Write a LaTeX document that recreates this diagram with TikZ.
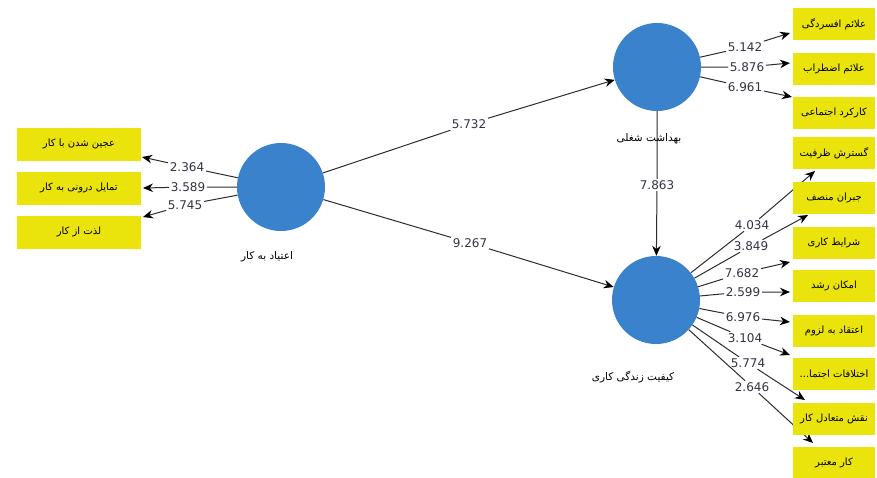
\documentclass[tikz,border=0pt]{standalone}
\usepackage{fontspec}
\setmainfont{DejaVu Sans}
\newfontfamily\fa[Script=Arabic]{DejaVu Sans}
\TeXXeTstate=1
\usetikzlibrary{arrows.meta,backgrounds}
\definecolor{myblue}{RGB}{58,130,204}
\definecolor{myyellow}{RGB}{234,228,12}
\definecolor{numc}{RGB}{50,52,66}
\definecolor{linec}{RGB}{45,45,45}
\newcommand{\fat}[1]{{\fa\beginR #1\endR}}
\begin{document}
\begin{tikzpicture}[x=1pt,y=-1pt,
  lat/.style={circle, fill=myblue, minimum size=88pt, inner sep=0pt},
  ind/.style={fill=myyellow, minimum width=82pt, minimum height=32pt, inner sep=0pt, font=\fontsize{10}{12}\selectfont},
  indl/.style={ind, minimum width=124pt, minimum height=33pt},
  latlab/.style={font=\fontsize{10.5}{12}\selectfont, text=black},
  num/.style={font=\fontsize{12}{14}\selectfont, text=numc, inner sep=1.5pt},
  con/.style={draw=linec, line width=1pt},
  arr/.style={con, -{Stealth[length=10pt,width=8.5pt,color=black]}}]
\useasboundingbox (0,0) rectangle (877,477);
% latent variables
\node[lat] (L) at (281,187) {};
\node[lat] (T) at (657,67) {};
\node[lat] (B) at (656,300) {};
\node[latlab] (Llab) at (267,257) {\fat{اعتیاد به کار}};
\node[latlab] (Tlab) at (649,139) {\fat{بهداشت شغلی}};
\node[latlab] (Blab) at (633,377) {\fat{کیفیت زندگی کاری}};
% left indicators
\node[indl] (lb1) at (79,144) {\fat{عجین شدن با کار}};
\node[indl] (lb2) at (79,188) {\fat{تمایل درونی به کار}};
\node[indl] (lb3) at (79,232) {\fat{لذت از کار}};
% right indicators
\node[ind] (r1) at (834,24) {\fat{علائم افسردگی}};
\node[ind] (r2) at (834,68.5) {\fat{علائم اضطراب}};
\node[ind] (r3) at (834,112.5) {\fat{کارکرد اجتماعی}};
\node[ind] (r4) at (834,153) {\fat{گسترش ظرفیت}};
\node[ind] (r5) at (834,197.5) {\fat{جبران منصف}};
\node[ind] (r6) at (834,242.5) {\fat{شرایط کاری}};
\node[ind] (r7) at (834,286) {\fat{امکان رشد}};
\node[ind] (r8) at (834,331) {\fat{اعتقاد به لزوم}};
\node[ind] (r9) at (834,374) {\fat{اختلافات اجتما...}};
\node[ind] (r10) at (834,419) {\fat{نقش متعادل کار}};
\node[ind] (r11) at (834,463) {\fat{کار معتبر}};
% arrow tips
\coordinate (t1) at (142,157);
\coordinate (t2) at (143,188);
\coordinate (t3) at (143,217);
\coordinate (u1) at (790,33);
\coordinate (u2) at (790,63);
\coordinate (u3) at (792,97);
\coordinate (u4) at (815,171);
\coordinate (u5) at (808,215);
\coordinate (u6) at (790,262);
\coordinate (u7) at (790,292);
\coordinate (u8) at (790,322);
\coordinate (u9) at (790,355);
\coordinate (u10) at (805,400);
\coordinate (u11) at (813,443);
% numbers
\node[num] (n1) at (187,167) {2.364};
\node[num] (n2) at (188,187) {3.589};
\node[num] (n3) at (185,205) {5.745};
\node[num, fill=white] (nLT) at (469,124) {5.732};
\node[num, fill=white] (nLB) at (470,243) {9.267};
\node[num] (nTB) at (657,185) {7.863};
\node[num] (m1) at (745,47) {5.142};
\node[num] (m2) at (747,67) {5.876};
\node[num] (m3) at (745,87) {6.961};
\node[num] (b4) at (752,225) {4.034};
\node[num] (b5) at (751,246) {3.849};
\node[num] (b6) at (742,273) {7.682};
\node[num] (b7) at (743,292) {2.599};
\node[num] (b8) at (743,317) {6.976};
\node[num] (b9) at (745,338) {3.104};
\node[num] (b10) at (748,363) {5.774};
\node[num] (b11) at (752,387) {2.646};
\begin{pgfonlayer}{background}
\fill[white] (0,0) rectangle (877,477);
\draw[arr] (L) -- (n1) -- (t1);
\draw[arr] (L) -- (n2) -- (t2);
\draw[arr] (L) -- (n3) -- (t3);
\draw[arr] (L) -- (nLT) -- (T);
\draw[arr] (L) -- (nLB) -- (B);
\draw[arr] (T) -- (nTB) -- (B);
\draw[arr] (T) -- (m1) -- (u1);
\draw[arr] (T) -- (m2) -- (u2);
\draw[arr] (T) -- (m3) -- (u3);
\draw[arr] (B) -- (b4) -- (u4);
\draw[arr] (B) -- (b5) -- (u5);
\draw[arr] (B) -- (b6) -- (u6);
\draw[arr] (B) -- (b7) -- (u7);
\draw[arr] (B) -- (b8) -- (u8);
\draw[arr] (B) -- (b9) -- (u9);
\draw[arr] (B) -- (b10) -- (u10);
\draw[arr] (B) -- (b11) -- (u11);
\end{pgfonlayer}
\end{tikzpicture}
\end{document}
